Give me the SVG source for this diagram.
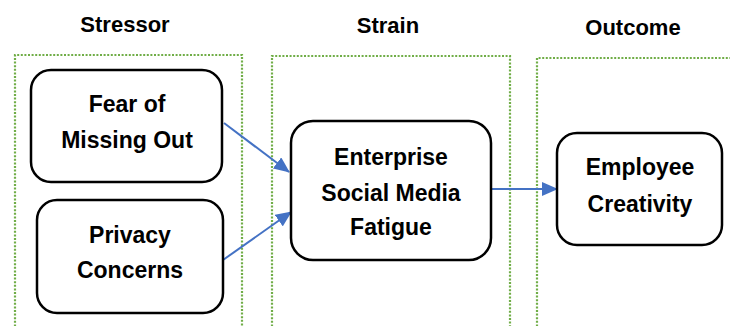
<svg xmlns="http://www.w3.org/2000/svg" width="730" height="326" viewBox="0 0 730 326">
<style>
.grp{fill:none;stroke:#70AD47;stroke-width:2.2;stroke-dasharray:2 1.6}
.node{fill:#fff;stroke:#000;stroke-width:2.5}
.t{font-family:"Liberation Sans",Arial,sans-serif;font-weight:bold;font-size:23px;fill:#000;text-anchor:middle}
.h{font-family:"Liberation Sans",Arial,sans-serif;font-weight:bold;font-size:22px;fill:#000;text-anchor:middle}
.c{stroke:#4472C4;stroke-width:2;fill:none}
</style>
<defs>
<marker id="ah2" markerWidth="16" markerHeight="14" refX="15" refY="7" orient="auto" markerUnits="userSpaceOnUse" viewBox="0 0 16 14">
<path d="M0,0 L16,7 L0,14 z" fill="#4472C4"/>
</marker>
</defs>
<rect width="730" height="326" fill="#fff"/>
<g id="headers">
<text class="h" x="125" y="32">Stressor</text>
<text class="h" x="388" y="33">Strain</text>
<text class="h" x="633" y="35">Outcome</text>
</g>
<g id="groups">
<path class="grp" d="M15,330 V55 H242 V330"/>
<path class="grp" d="M272,330 V56 H510 V330"/>
<path class="grp" d="M537,330 V58 H735"/>
</g>
<g id="connectors">
<line class="c" x1="224" y1="123" x2="289" y2="172" marker-end="url(#ah2)"/>
<line class="c" x1="223" y1="260" x2="291" y2="212" marker-end="url(#ah2)"/>
<line class="c" x1="491" y1="189" x2="557" y2="189" marker-end="url(#ah2)"/>
</g>
<g id="fomo">
<rect class="node" x="31" y="70" width="191" height="112" rx="20"/>
<text class="t" x="127" y="112">Fear of</text>
<text class="t" x="127" y="148">Missing Out</text>
</g>
<g id="privacy">
<rect class="node" x="37" y="200" width="186" height="113" rx="20"/>
<text class="t" x="130" y="243">Privacy</text>
<text class="t" x="130" y="278">Concerns</text>
</g>
<g id="esmf">
<rect class="node" x="291" y="121" width="200" height="139" rx="22"/>
<text class="t" x="391" y="165">Enterprise</text>
<text class="t" x="391" y="201">Social Media</text>
<text class="t" x="391" y="235">Fatigue</text>
</g>
<g id="creativity">
<rect class="node" x="557" y="133" width="165" height="112" rx="20"/>
<text class="t" x="640" y="175">Employee</text>
<text class="t" x="640" y="212">Creativity</text>
</g>
</svg>
